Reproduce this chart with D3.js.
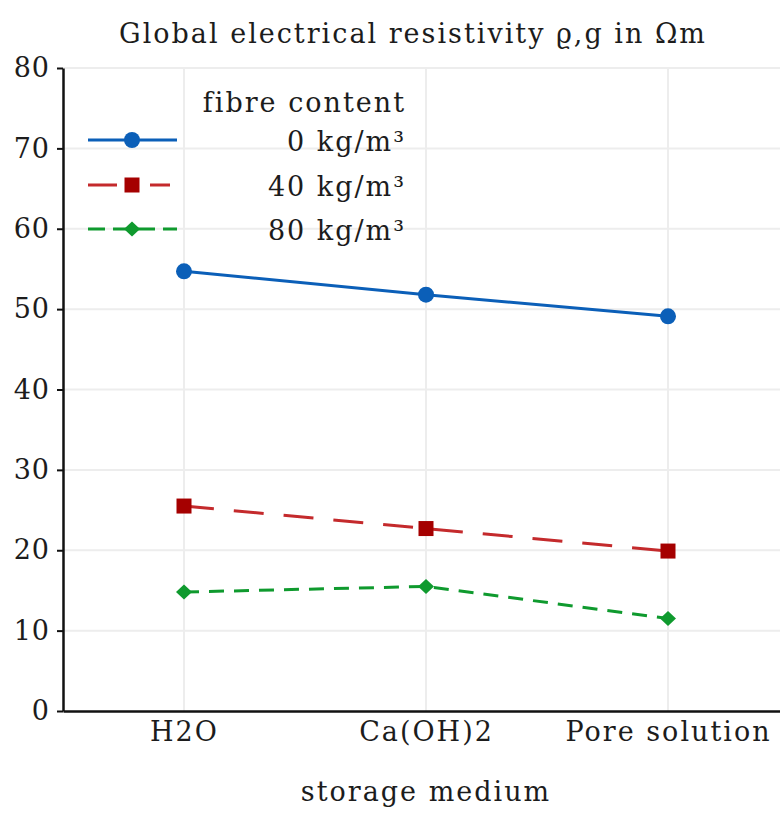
<!DOCTYPE html>
<html>
<head>
<meta charset="utf-8">
<script src="https://cdn.jsdelivr.net/npm/d3@7/dist/d3.min.js"></script>
<style>
  body { margin: 0; background: #fff; }
  svg text { font-family: "DejaVu Serif", "Liberation Serif", serif; fill: #1c1c1c; letter-spacing: 2px; }
</style>
</head>
<body>
<div id="chart"></div>
<script>
// data
var media = ["H2O", "Ca(OH)2", "Pore solution"]
var fibre0 = [54.7, 51.8, 49.1]
var fibre40 = [25.5, 22.7, 19.9]
var fibre80 = [14.8, 15.5, 11.5]
var seriesNames = ["0 kg/m³", "40 kg/m³", "80 kg/m³"]
var yTicks = [0, 10, 20, 30, 40, 50, 60, 70, 80]

var width = 780
var height = 814

var mLeft = 63, mRight = 789, mTop = 68, mBottom = 711

var svg = d3.select('#chart')
            .append('svg')
            .attr('width', width)
            .attr('height', height)

var xScale = d3.scalePoint()
                .domain(media)
                .range([mLeft, mRight])
                .padding(0.5)

var yScale = d3.scaleLinear()
                .domain([0, 80])
                .range([mBottom, mTop])

// grid
svg.append('g')
    .selectAll('line')
    .data(yTicks.slice(1))
    .enter()
    .append('line')
    .attr('x1', mLeft).attr('x2', width)
    .attr('y1', d => yScale(d)).attr('y2', d => yScale(d))
    .attr('stroke', '#ededed')
    .attr('stroke-width', 2)

svg.append('g')
    .selectAll('line')
    .data(media)
    .enter()
    .append('line')
    .attr('x1', d => xScale(d)).attr('x2', d => xScale(d))
    .attr('y1', mTop).attr('y2', mBottom)
    .attr('stroke', '#ededed')
    .attr('stroke-width', 2)

// axes
var yAxis = d3.axisLeft(yScale)
                .tickValues(yTicks)
                .tickSize(6)
                .tickSizeOuter(0)
                .tickPadding(7)

var gy = svg.append('g')
            .attr('transform', 'translate(' + mLeft + ',0)')
            .call(yAxis)
gy.select('.domain').attr('stroke', '#111').attr('stroke-width', 2.5)
gy.selectAll('.tick line').attr('stroke', '#111').attr('stroke-width', 2)
gy.selectAll('.tick text')
    .style('font-size', '27px')
    .style('letter-spacing', '1px')
    .style('font-family', '"DejaVu Serif", serif')
    .attr('fill', '#1c1c1c')

var xAxis = d3.axisBottom(xScale)
                .tickSize(0)
                .tickSizeOuter(0)
                .tickPadding(11)

var gx = svg.append('g')
            .attr('transform', 'translate(0,' + mBottom + ')')
            .call(xAxis)
gx.select('.domain').attr('stroke', '#111').attr('stroke-width', 2.5)
gx.selectAll('.tick text')
    .style('font-size', '27px')
    .style('font-family', '"DejaVu Serif", serif')
    .attr('fill', '#1c1c1c')

// title and label
svg.append('text')
    .attr('x', 413)
    .attr('y', 43)
    .attr('text-anchor', 'middle')
    .style('font-size', '27px')
    .text('Global electrical resistivity ϱ,g in Ωm')

svg.append('text')
    .attr('x', 426)
    .attr('y', 801)
    .attr('text-anchor', 'middle')
    .style('font-size', '27px')
    .text('storage medium')

// series
var series = [
    { name: seriesNames[0], values: fibre0, color: '#0b5fb8', dash: null, legendDash: null, legendEnd: 177, marker: 'circle' },
    { name: seriesNames[1], values: fibre40, color: '#c42a2c', dash: '30,20', legendDash: '29,33', legendEnd: 170, marker: 'square', markerColor: '#a50000' },
    { name: seriesNames[2], values: fibre80, color: '#0f9a2e', dash: '15,10', legendDash: '17,8', legendEnd: 177, marker: 'diamond' }
]

var line = d3.line()
            .x((d, i) => xScale(media[i]))
            .y(d => yScale(d))

function drawMarker (g, s, x, y) {
    var c = s.markerColor || s.color
    if (s.marker === 'circle') {
        g.append('circle').attr('cx', x).attr('cy', y).attr('r', 8).attr('fill', c)
    } else if (s.marker === 'square') {
        g.append('rect').attr('x', x - 7.5).attr('y', y - 7.5).attr('width', 15).attr('height', 15).attr('fill', c)
    } else {
        g.append('path')
            .attr('d', 'M' + x + ',' + (y - 7.5) + 'L' + (x + 8) + ',' + y + 'L' + x + ',' + (y + 7.5) + 'L' + (x - 8) + ',' + y + 'Z')
            .attr('fill', c)
    }
}

series.forEach(function (s) {
    var g = svg.append('g')
    g.append('path')
        .datum(s.values)
        .attr('d', line)
        .attr('fill', 'none')
        .attr('stroke', s.color)
        .attr('stroke-width', 3)
        .attr('stroke-dasharray', s.dash)
    s.values.forEach(function (v, i) {
        drawMarker(g, s, xScale(media[i]), yScale(v))
    })
})

// legend
var legend = svg.append('g')
legend.append('text')
    .attr('x', 406)
    .attr('y', 112)
    .attr('text-anchor', 'end')
    .style('font-size', '27px')
    .text('fibre content')

var legendY = [140, 185, 229]
series.forEach(function (s, i) {
    var y = legendY[i]
    legend.append('line')
        .attr('x1', 88).attr('x2', s.legendEnd)
        .attr('y1', y).attr('y2', y)
        .attr('stroke', s.color)
        .attr('stroke-width', 3)
        .attr('stroke-dasharray', s.legendDash)
    drawMarker(legend, s, 132, y)
    legend.append('text')
        .attr('x', 406)
        .attr('y', y + 11)
        .attr('text-anchor', 'end')
        .style('font-size', '27px')
        .text(s.name)
})
</script>
</body>
</html>
